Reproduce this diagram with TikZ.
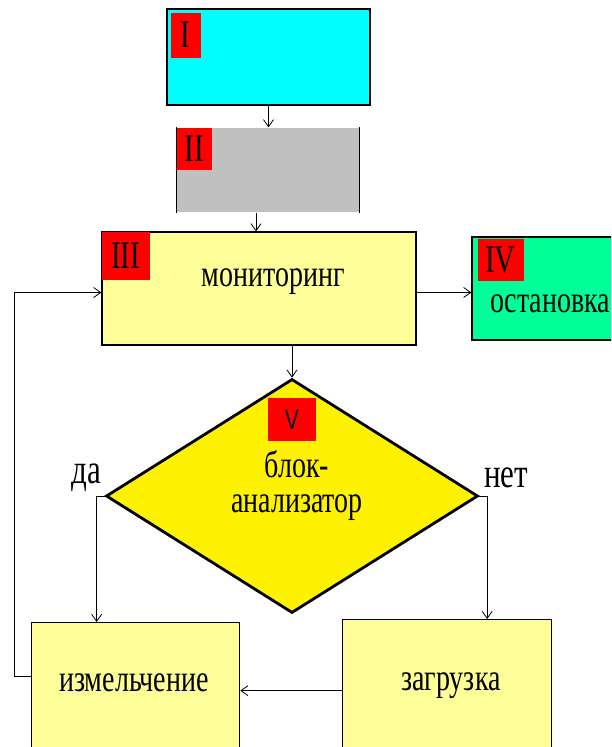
\documentclass[tikz,border=0pt]{standalone}
\usepackage{fontspec}
\setmainfont{Liberation Serif}
\newfontfamily\tagsans{Liberation Sans}
\usepackage{graphicx}
\usetikzlibrary{positioning,shapes.geometric,arrows.meta}
\newcommand{\tall}[1]{\scalebox{1}[1.35]{#1}}
\definecolor{cyanbox}{RGB}{0,255,255}
\definecolor{greybox}{RGB}{192,192,192}
\definecolor{paleyellow}{RGB}{255,255,153}
\definecolor{greenbox}{RGB}{0,255,153}
\definecolor{tagred}{RGB}{255,0,0}
\tikzset{
>={Straight Barb[length=7pt,width=10pt]},
block/.style={rectangle, draw, line width=1.3pt, inner sep=0pt},
tag/.style={fill=tagred, inner sep=0pt, anchor=north west, font=\fontsize{29}{29}\selectfont},
txt/.style={inner sep=0pt, font=\fontsize{28}{35}\selectfont, align=center},
flow/.style={->, line width=0.8pt},
}

\begin{document}
\begin{tikzpicture}
    [x=1pt, y=-1pt]
    \clip (0,0) rectangle (611,747);

    % boxes
    \node [block, fill=cyanbox, minimum width=203pt, minimum height=96pt] (bI) at (268.5,57) {};
    \node [block, draw=none, fill=greybox, minimum width=182pt, minimum height=84pt] (bII) at (268,170) {};
    \draw [line width=1pt] (bII.north west) -- (bII.south west) (bII.north east) -- (bII.south east);
    \node [block, fill=paleyellow, minimum width=314pt, minimum height=113pt] (bIII) at (259,288.5) {};
    \node [block, fill=greenbox, minimum width=150pt, minimum height=103pt] (bIV) at (547,288.5) {};
    \node [diamond, draw, line width=2.8pt, fill=yellow, inner sep=0pt,
           minimum width=372pt, minimum height=234pt] (dV) at (292,496) {};
    \node [block, fill=paleyellow, minimum width=208pt, minimum height=150pt, anchor=north west] (bIzm) at (31,622) {};
    \node [block, fill=paleyellow, minimum width=209pt, minimum height=150pt, anchor=north west] (bZag) at (342,619) {};

    % red tags
    \node [tag, minimum width=30pt, minimum height=45pt] (tI) at ([shift={(4pt,-4pt)}]bI.north west) {\tall{I}};
    \node [tag, minimum width=35pt, minimum height=42pt] (tII) at (bII.north west) {\tall{II}};
    \node [tag, minimum width=48pt, minimum height=48pt] (tIII) at (bIII.north west) {\tall{III}};
    \node [tag, minimum width=46pt, minimum height=42pt] (tIV) at ([shift={(6pt,-2pt)}]bIV.north west) {\tall{IV}};
    \node [tag, anchor=north, minimum width=48pt, minimum height=43pt, font=\tagsans\fontsize{21}{21}\selectfont] (tV)
        at ([yshift=-20pt]dV.north) {\tall{V}};

    % texts
    \node [txt] (mon) at (273,282) {\tall{мониторинг}};
    \node [txt] (ost) at (550,304) {\tall{остановка}};
    \node [txt] (blk) at (297,485) {\tall{блок-}\\\tall{анализатор}};
    \node [txt] (izm) at (134,683) {\tall{измельчение}};
    \node [txt] (zag) at (451,686) {\tall{загрузка}};
    \node [txt, font=\fontsize{31}{31}\selectfont] (da) at (86,478) {\tall{да}};
    \node [txt, font=\fontsize{31}{31}\selectfont] (net) at (506,478) {\tall{нет}};

    \draw [flow] (bI.south) -- (bI.south |- bII.north);
    \draw [flow] ([xshift=-12pt]bII.south) -- ([xshift=-12pt]bII.south |- bIII.north);
    \draw [flow] ([yshift=-4pt]bIII.east) -- ([yshift=-4pt]bIII.east -| bIV.west);
    \draw [flow] (dV.north |- bIII.south) -- (dV.north);
    \draw [flow] (dV.west) -| ([xshift=-39pt]bIzm.north);
    \draw [flow] (dV.east) -| ([xshift=40pt]bZag.north);
    \draw [flow] ([yshift=4pt]bZag.west) -- ([yshift=4pt]bZag.west -| bIzm.east);
    \draw [flow] ([yshift=21pt]bIzm.west) -- ++(-17,0) |- ([yshift=-4pt]bIII.west);

\end{tikzpicture}
\end{document}
